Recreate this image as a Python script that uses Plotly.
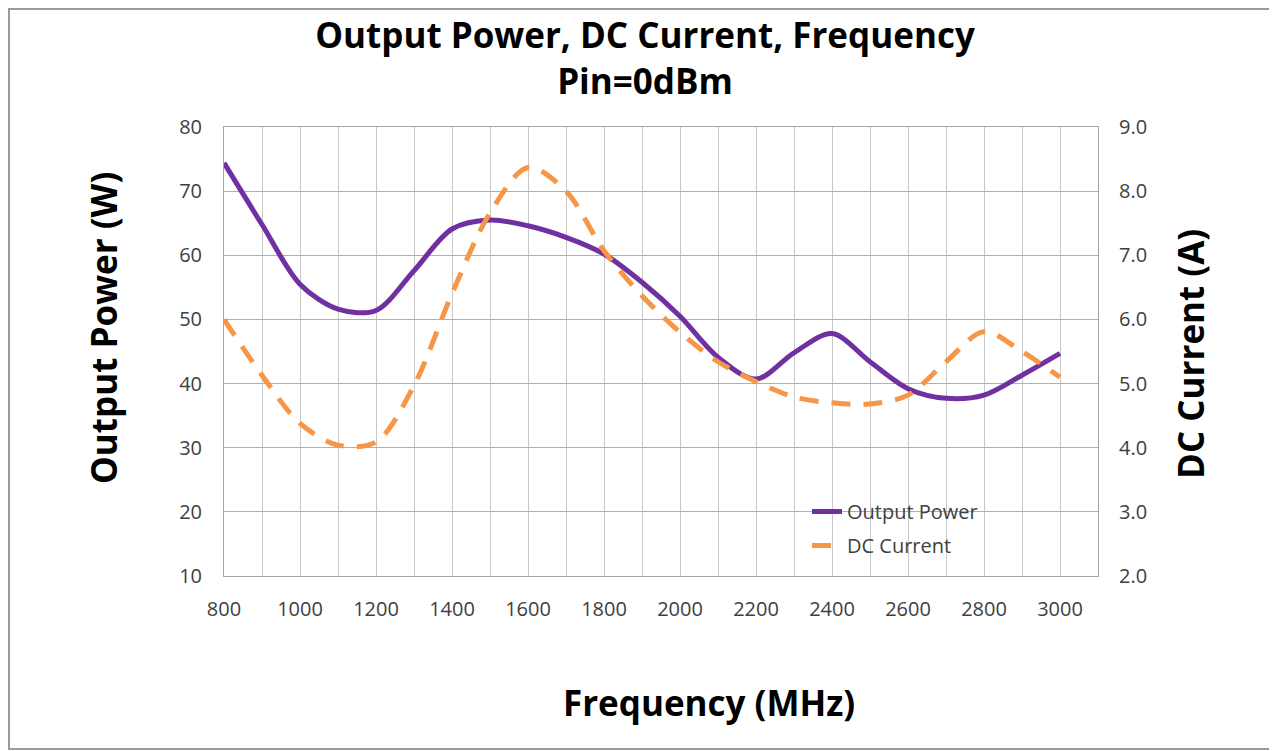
import plotly.graph_objects as go

# ---- data ----
freq_mhz = [800, 900, 1000, 1100, 1200, 1300, 1400, 1500, 1600, 1700, 1800, 1900,
            2000, 2100, 2200, 2300, 2400, 2500, 2600, 2700, 2800, 2900, 3000]
output_power_w = [74.4, 64.8, 55.5, 51.6, 51.4, 57.6, 64.1, 65.5, 64.6, 62.8, 60.2, 55.8,
                  50.5, 44.1, 40.7, 44.8, 47.8, 43.4, 39.2, 37.7, 38.2, 41.3, 44.7]
dc_current_a = [6.0, 5.13, 4.38, 4.04, 4.09, 4.97, 6.4, 7.66, 8.37, 8.0, 7.07, 6.37,
                5.8, 5.34, 5.03, 4.79, 4.70, 4.68, 4.82, 5.34, 5.81, 5.5, 5.1]

x_grid_vals = list(range(800, 3200, 100))
x_tick_text = [str(v) if (v - 800) % 200 == 0 and v <= 3000 else "" for v in x_grid_vals]

title_text = "Output Power, DC Current, Frequency<br>Pin=0dBm"

PURPLE = "#7030A0"
ORANGE = "#F79646"
FONT = "Open Sans"
TICK_COLOR = "#404040"

fig = go.Figure()
fig.add_trace(go.Scatter(
    x=freq_mhz, y=output_power_w, name="Output Power", mode="lines",
    line=dict(color=PURPLE, width=5, shape="spline", smoothing=0.9),
    yaxis="y", legendgroup="a",
))
fig.add_trace(go.Scatter(
    x=freq_mhz, y=dc_current_a, name="DC Current", mode="lines",
    line=dict(color=ORANGE, width=5, shape="spline", smoothing=0.9, dash="19px,13px"),
    yaxis="y2", legendgroup="b",
))

# page places the figure at (8, 8); target plot area in window pixels
OFF = 8
WIN_W, WIN_H = 1277, 751
PL, PR, PT, PB = 224, 1098, 127, 576
W, H = WIN_W - OFF, WIN_H - OFF
pw = PR - PL
ph = PB - PT


def px(xa):
    return (xa - PL) / pw


def py(ya):
    return (PB - ya) / ph


fig.update_layout(
    width=W, height=H,
    margin=dict(l=PL - OFF, r=WIN_W - PR, t=PT - OFF, b=WIN_H - PB),
    paper_bgcolor="white", plot_bgcolor="white",
    font=dict(family=FONT, color=TICK_COLOR, size=20),
    title=dict(text=title_text, x=px(645), xanchor="center", xref="paper",
               yref="container", y=1 - (36 - OFF + 12) / H, yanchor="top",
               font=dict(family=FONT, size=35, color="#000000", weight="bold")),
    xaxis=dict(range=[800, 3100], tickmode="array", tickvals=x_grid_vals, ticktext=x_tick_text,
               showgrid=True, gridcolor="#c8c8c8", gridwidth=1,
               showline=True, linecolor="#a6a6a6", linewidth=1, mirror=True,
               ticks="", ticklabelstandoff=15, zeroline=False,
               tickfont=dict(family=FONT, size=20, color=TICK_COLOR)),
    yaxis=dict(range=[10, 80], dtick=10, tick0=10,
               showgrid=True, gridcolor="#b0b0b0", gridwidth=1,
               showline=True, linecolor="#a6a6a6", linewidth=1, mirror=True,
               ticks="", ticklabelstandoff=17, zeroline=False,
               tickfont=dict(family=FONT, size=20, color=TICK_COLOR)),
    yaxis2=dict(range=[2, 9], dtick=1, tick0=2, tickformat=".1f", overlaying="y", side="right",
                showgrid=False, showline=False, ticks="", ticklabelstandoff=20, zeroline=False,
                tickfont=dict(family=FONT, size=20, color=TICK_COLOR)),
    legend=dict(x=px(807), xanchor="left", y=py(492), yanchor="top",
                bgcolor="rgba(0,0,0,0)", borderwidth=0, tracegroupgap=5,
                font=dict(family=FONT, size=20, color=TICK_COLOR)),
    showlegend=True,
    shapes=[
        dict(type="rect", xref="paper", yref="paper",
             x0=px(742), x1=px(1018), y0=py(565), y1=py(492),
             fillcolor="white", line=dict(width=0), layer="between"),
        dict(type="rect", xref="paper", yref="paper",
             x0=px(9), x1=px(1275), y0=py(749), y1=py(9),
             fillcolor="rgba(0,0,0,0)", line=dict(color="#9a9a9a", width=2), layer="above"),
    ],
    annotations=[
        dict(text="Output Power (W)", xref="paper", yref="paper", x=px(103), y=py(328),
             xanchor="center", yanchor="middle", textangle=-90, showarrow=False,
             font=dict(family=FONT, size=35, color="#000000", weight="bold")),
        dict(text="DC Current (A)", xref="paper", yref="paper", x=px(1190), y=py(354),
             xanchor="center", yanchor="middle", textangle=-90, showarrow=False,
             font=dict(family=FONT, size=35, color="#000000", weight="bold")),
        dict(text="Frequency (MHz)", xref="paper", yref="paper", x=px(709), y=py(702),
             xanchor="center", yanchor="middle", showarrow=False,
             font=dict(family=FONT, size=35, color="#000000", weight="bold")),
    ],
)

fig.write_html("out.html")
